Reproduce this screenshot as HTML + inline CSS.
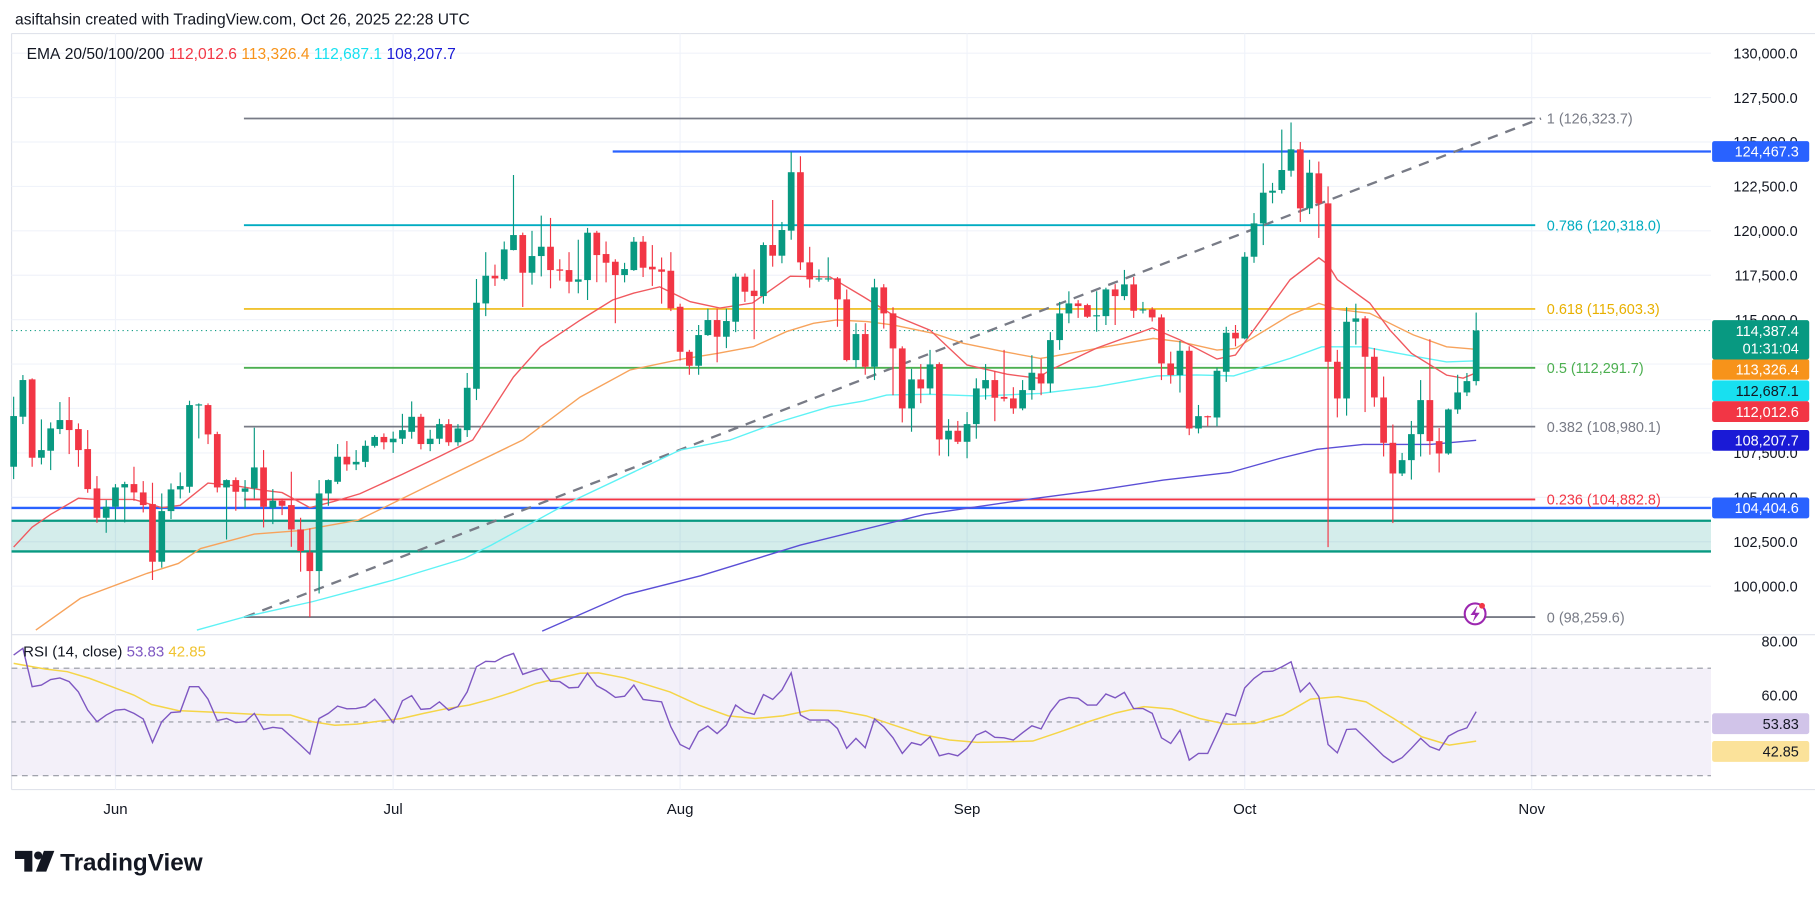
<!DOCTYPE html>
<html><head><meta charset="utf-8">
<style>
html,body{margin:0;padding:0;background:#fff;}
svg{display:block;font-family:"Liberation Sans",sans-serif;}
</style></head>
<body>
<svg id="chart" xmlns="http://www.w3.org/2000/svg" width="1815" height="900" viewBox="0 0 1570 778.5" preserveAspectRatio="none"></svg>
<script>
const opens=[106722,109537,111640,107229,107623,108843,109350,108843,107717,105502,103850,104470,105558,105746,105277,104620,101376,104226,105446,105596,110194,110194,108561,105558,105971,105314,105502,106684,104414,104808,104564,103193,101900,100850,105220,105877,107285,106853,106998,107900,108400,108100,108300,108689,109533,108000,108300,109120,108100,108783,111111,115915,117473,117285,118919,119763,117642,118581,119106,117830,117792,117135,117229,119895,118694,118261,117510,117792,119388,117980,117830,117754,115727,113193,112407,114134,114979,114040,114885,117419,116630,116330,119202,118601,120010,123300,118226,117288,117288,117325,116143,112726,114190,112350,116818,115354,113383,110005,111638,111131,112500,108259,108748,108127,109123,111131,111600,110650,110568,110005,111037,111974,111410,113851,115352,115915,115821,115200,115200,116703,116328,116985,115540,115577,115127,112537,111880,113250,108876,109570,109495,112068,114263,113945,118543,120420,122147,122298,123386,124587,121265,123235,121546,112631,110566,114883,115071,112913,110622,108070,106343,107094,108558,110473,108164,107469,109947,110904,111542];
const highs=[110664,111884,111696,109387,109218,110363,110645,109162,108787,106196,104845,105746,105877,106722,105915,105821,105220,105784,106403,110438,110288,110288,108693,106009,106121,105971,108918,107660,105464,104939,106440,103850,103250,105971,106009,107998,108167,107660,108200,108500,108600,108700,109700,110400,109700,108800,109420,109400,109120,112000,117290,118800,118100,119400,123143,119900,120000,120858,120727,118400,118800,119500,120164,120000,119400,118400,118200,119650,119707,119200,118500,118800,115900,113300,114700,115617,115617,115617,117600,117600,117829,119350,121736,120500,124450,124200,119100,117829,118508,117400,116700,114800,114800,117300,117000,115700,113500,112238,112500,113300,112600,109400,109300,109800,111700,112500,112100,113300,111200,111600,113000,112800,114300,116000,116596,116100,115900,116600,116800,117000,117800,117400,116000,115700,115300,113200,113800,113500,110200,109600,112300,114600,114700,118800,121000,123800,122700,125700,126100,125000,124000,123900,122500,113300,115700,115900,115200,113400,111800,109100,107500,109300,111600,113900,108900,110000,111900,112000,115400];
const lows=[106027,109125,106722,106853,106534,108561,107435,106722,105258,103568,103005,103719,103587,104808,104150,100347,101040,103775,104939,105258,108317,107998,105277,102630,104245,104376,104939,103305,103493,104000,102217,100816,98260,99589,104526,105746,106497,106534,106700,107800,107700,107500,108000,108300,107700,107600,108000,107900,107900,108400,110476,115200,116900,117200,118900,115714,116972,117435,116765,117200,116484,116484,116108,117110,117100,114800,117100,117750,117400,116900,115900,115483,112700,111900,111900,114087,112600,113400,114300,116000,113900,115900,117983,118176,119500,117800,116800,117138,117138,114600,112650,112300,111900,111600,114500,110750,109217,108692,110300,110800,107350,107310,108000,107200,108300,110500,109286,110400,109700,109900,110500,110750,110900,113300,114800,115100,115100,114320,114700,114700,116100,115100,115350,114900,111600,111400,110900,108500,108600,109000,109000,111500,113500,113900,118200,119200,121550,122100,123050,120500,120945,119600,102200,109500,109600,113600,109800,110100,107300,103550,106200,106000,107300,107400,106400,107400,109700,110700,111300];
const closes=[109575,111602,107229,107660,108880,109350,108787,107660,105464,103850,104470,105558,105746,105277,104564,101376,104226,105446,105634,110194,110232,108542,105558,105971,105314,105502,106684,104470,104808,104526,103193,101980,100850,105220,105971,107285,106853,106998,107900,108400,108100,108300,108783,109533,108000,108300,109120,108100,108876,111167,115953,117473,117322,118956,119763,117642,118581,119106,117792,117754,117135,117266,119895,118637,118205,117510,117849,119388,117924,117830,117698,115633,113193,112407,114134,114979,114040,114923,117419,116574,116330,119202,118601,120047,123300,118226,117269,117325,117325,116143,112726,114190,112350,116818,115354,113383,110005,111638,111131,112482,108259,108748,108127,109123,111131,111600,110606,110550,110005,111037,112013,111410,113851,115352,115915,115765,115164,115250,116703,116328,116985,115502,115580,115127,112537,111880,113250,108876,109570,109530,112124,114263,113945,118543,120420,122147,122260,123424,124587,121265,123273,121546,112630,110566,114883,115071,112913,110622,108070,106343,107094,108558,110473,108164,107469,109947,110904,111542,114387];
const ema20Day=[0,2,4,7,9,13,16,18,21,24,27,29,32,34.5,37.4,42,46,49.6,54,56.9,61.2,64.7,67,69.8,73.1,76.3,79.8,83.9,88.2,91.8,95,99,103,107.3,110.6,112,117,123,126,130,132,137.9,141,142,143,146.5,148.7,151,154.8,156.6,158];
const ema20Val=[102200,103320,104040,104950,104880,104880,104420,104550,105800,105650,105400,105270,104420,104750,105200,106300,107300,108230,111780,113470,114970,116110,116500,116850,116010,115650,115940,117450,117410,116290,115260,114410,112450,111930,111710,112170,113400,114530,113860,112780,113010,117250,118480,118090,117250,115940,114410,113110,111880,111710,112012];
const ema50Day=[2.4,7.2,14.4,17.8,20.2,26,31,33,37.2,45,55,61.2,66.6,72,76,79.9,83.5,86.4,88.9,92.2,95,99.4,102.6,107,110.9,112,117,123.1,126,130,132,137.9,141,143,146.5,151.2,154.8,158];
const ema50Val=[97530,99310,100720,101280,102120,102930,103130,103320,103710,105700,108230,110640,112170,112760,113100,113480,114330,114790,114980,114890,114700,114230,113670,113200,112820,112910,113380,113950,113760,113290,113380,115260,115920,115580,115360,114140,113470,113326];
const ema100Day=[19.8,25,32.3,41,48.7,51.6,60,72,77.4,82.8,88.2,91.8,94.3,99,104.4,110.9,117,123.5,127.8,131.8,137.9,141.3,145.8,151.2,154.8,158];
const ema100Val=[97530,98280,99130,100340,101560,102310,104700,107660,108230,109260,110100,110420,110760,110800,110700,110850,111230,111830,111890,111830,112820,113470,113470,112950,112620,112687];
const ema200Day=[57.1,66,74.2,85,98.4,109.8,117,124.2,131.4,136.8,140.8,145.8,153,158];
const ema200Val=[97470,99500,100580,102310,104040,104900,105400,105970,106400,107190,107700,107980,107980,108208];
const rsiDay=[0,1,2,3,4,5,6,7,8,9,10,11,12,13,14,15,16,17,18,19,20,21,22,23,24,25,26,27,28,29,30,31,32,33,34,35,36,37,38,39,40,41,42,43,44,45,46,47,48,49,50,51,52,53,54,55,56,57,58,59,60,61,62,63,64,65,66,67,68,69,70,71,72,73,74,75,76,77,78,79,80,81,82,83,84,85,86,88,89,90,91,92,93,94,95,96,97,98,99,100,101,102,103,104,105,106,107,108,109,110,111,112,113,114,115,116,117,118,119,120,121,122,123,124,125,126,127,128,129,130,131,132,133,134,135,136,137,138,139,140,141,142,143,144,145,146,147,148,149,150,151,152,153,154,155,156,157,158];
const rsiVal=[74.9,77.4,63.1,63.7,65.8,66.4,65.0,61.2,54.4,50.1,52.6,54.4,54.7,53.2,51.1,42.4,50.1,53.5,53.8,63.1,63.1,58.5,50.5,51.3,49.8,50.1,53.2,47.2,48.0,47.6,44.5,41.4,38.1,51.3,53.2,55.9,54.9,55.0,55.7,58.5,54.4,49.7,57.9,59.8,54.7,55.0,57.5,54.4,55.7,61.2,70.5,72.6,72.4,74.3,75.5,67.7,68.9,69.9,65.2,65.0,62.7,62.9,68.1,63.5,61.6,59.1,59.6,63.7,58.4,57.9,57.5,48.2,41.6,39.9,46.4,48.5,45.7,48.8,56.3,53.8,52.8,60.2,58.4,61.9,68.3,52.6,50.7,50.7,47.6,40.2,43.9,40.4,51.1,48.2,44.1,38.3,42.3,41.4,44.5,37.4,38.3,37.4,40.2,45.1,46.6,44.3,44.1,43.3,46.0,48.6,47.4,53.8,58.1,59.1,58.8,56.3,56.3,60.4,59.0,61.0,55.0,55.0,53.2,44.1,42.0,47.0,35.8,38.3,38.3,45.7,53.2,52.3,62.7,66.2,68.7,68.9,70.5,72.4,61.2,64.6,59.4,41.6,38.5,47.2,47.4,44.1,40.8,37.4,34.9,36.7,40.2,43.9,40.8,39.5,44.7,46.6,47.8,53.83];
const maDay=[0,3.4,5.8,8.2,10.6,13,14.9,17.8,22.6,27.5,29.9,32.3,34.7,37.1,39.5,41.9,44.3,46.8,49.2,51.6,54,56.4,58.8,61.2,63.2,66,68.5,70.9,74,77.2,80.1,83.1,86.1,89.1,92.1,95.1,98.1,101.1,104.1,107.1,110.1,113.1,116.1,119.1,122.1,125.1,128.1,131.1,134.1,137.1,140.1,143.1,146.1,149.1,152.1,155.1,158];
const maVal=[71.8,69.7,68.7,66.2,63.1,60,56.5,54.2,53.5,52.6,52.6,50.1,48.8,49.2,50.3,51.3,53.2,55,56.3,58.5,61.2,64.3,66.2,68.1,68.3,66.4,63.7,61.2,56.3,52.3,51.3,52.3,54.4,54.2,52.3,48.8,45.4,43.3,42.4,42.6,42.9,46.4,50.1,53.4,55.7,54.8,51.3,49.1,49.5,52.6,58.5,59.4,57.5,51.3,44.5,41.4,42.85];
const priceTicks=[130000,127500,125000,122500,120000,117500,115000,112500,110000,107500,105000,102500,100000];
const fibRatios=["1","0.786","0.618","0.5","0.382","0.236","0"];
const fibPrices=[126323.7,120318.0,115603.3,112291.7,108980.1,104882.8,98259.6];
const monthLabels=["Jun","Jul","Aug","Sep","Oct","Nov"];
const monthDays=[11,41,72,103,133,164];
const rsiTicks=[80,60,40];

const svg=document.getElementById('chart');
const NS='http://www.w3.org/2000/svg';
const X=i=>11.8+i*8.007;
const Y=p=>46+(130000-p)/2500*38.42;
const R=v=>578+(70-v)*2.325;
const fmt=(v,d)=>v.toLocaleString('en-US',{minimumFractionDigits:d,maximumFractionDigits:d});
function mk(tag,attrs,parent){const e=document.createElementNS(NS,tag);for(const k in attrs)e.setAttribute(k,attrs[k]);(parent||svg).appendChild(e);return e;}
function txt(s,attrs,parent){const e=mk('text',attrs,parent);e.textContent=s;return e;}

let t=txt('asiftahsin created with TradingView.com, Oct 26, 2025 22:28 UTC',{x:13,y:21,'font-size':13.5,fill:'#131722'});


let fr=mk('line',{x1:10,y1:29,x2:1570,y2:29,stroke:'#e0e3eb','stroke-width':1});


fr=mk('line',{x1:10,y1:29,x2:10,y2:683,stroke:'#e0e3eb','stroke-width':1});


fr=mk('line',{x1:10,y1:549,x2:1570,y2:549,stroke:'#e0e3eb','stroke-width':1});


fr=mk('line',{x1:10,y1:683,x2:1570,y2:683,stroke:'#e0e3eb','stroke-width':1});



priceTicks.forEach(p=>{const g=mk('line',{x1:10,y1:Y(p),x2:1480,y2:Y(p),stroke:'#f0f3fa','stroke-width':1});

});
monthDays.forEach(d=>{const g=mk('line',{x1:X(d),y1:29,x2:X(d),y2:683,stroke:'#f0f3fa','stroke-width':1});

});

let zone=mk('rect',{x:10,y:Y(103681),width:1470,height:Y(101955)-Y(103681),fill:'rgba(38,166,154,0.2)'});


[103681,101955].forEach(p=>{const l=mk('line',{x1:10,y1:Y(p),x2:1480,y2:Y(p),stroke:'#089981','stroke-width':2});

});
let bl=mk('line',{x1:10,y1:Y(104404.6),x2:1480,y2:Y(104404.6),stroke:'#2962ff','stroke-width':2});


bl=mk('line',{x1:530,y1:Y(124467.3),x2:1480,y2:Y(124467.3),stroke:'#2962ff','stroke-width':2});



const fibColors=['#787b86','#00acc1','#f0c330','#4caf50','#787b86','#f23645','#787b86'];
fibPrices.forEach((p,i)=>{const l=mk('line',{x1:211,y1:Y(p),x2:1328,y2:Y(p),stroke:fibColors[i],'stroke-width':1.6});


const tl=txt(fibRatios[i]+' ('+fmt(p,1)+')',{x:1338,y:Y(p)+4.5,'font-size':12.5,fill:fibColors[i]==='#f0c330'?'#e8b000':fibColors[i]});

});
let tr=mk('line',{x1:X(25),y1:Y(98259.6),x2:1333,y2:Y(126323.7),stroke:'#787b86','stroke-width':2,'stroke-dasharray':'9,7'});


let cp=mk('line',{x1:10,y1:Y(closes[closes.length-1]),x2:1480,y2:Y(closes[closes.length-1]),stroke:'#089981','stroke-width':1,'stroke-dasharray':'1,3'});



function poly(days,vals,col,name){const pts=days.map((d,i)=>X(d).toFixed(1)+','+Y(vals[i]).toFixed(1)).join(' ');
const pl=mk('polyline',{points:pts,fill:'none',stroke:col,'stroke-width':1.2});

}
poly(ema200Day,ema200Val,'#5b4fd6','ema200-line');
poly(ema100Day,ema100Val,'#5ef2f5','ema100-line');
poly(ema50Day,ema50Val,'#f7a35c','ema50-line');
poly(ema20Day,ema20Val,'#f0595f','ema20-line');

closes.forEach((c,i)=>{const o=opens[i],up=c>=o,col=up?'#089981':'#f23645',x=X(i);
const g=mk('g',{});


mk('line',{x1:x,y1:Y(highs[i]),x2:x,y2:Y(lows[i]),stroke:col,'stroke-width':1},g);
const top=Y(Math.max(o,c)),bot=Y(Math.min(o,c));
mk('rect',{x:x-2.9,y:top,width:5.8,height:Math.max(1,bot-top),fill:col},g);});

let lg=mk('g',{});


const lt=mk('text',{x:23,y:51,'font-size':13.5,fill:'#131722'},lg);
[['EMA 20/50/100/200 ','#131722'],['112,012.6 ','#f23645'],['113,326.4 ','#f7931a'],['112,687.1 ','#18e0f0'],['108,207.7','#1a1ad6']].forEach(a=>{const s=document.createElementNS(NS,'tspan');s.setAttribute('fill',a[1]);s.textContent=a[0].replace(/ /g,'\u00a0');lt.appendChild(s);});

priceTicks.forEach(p=>{const l=txt(fmt(p,1),{x:1555,y:Y(p)+4.5,'font-size':12.5,fill:'#131722','text-anchor':'end'});

});
function tag(y,bg,fg,label,name,h){const r=mk('rect',{x:1481,y:y-9,width:84,height:h||18,rx:2,fill:bg});


const tt=txt(label,{x:1556,y:y+4.5,'font-size':12.5,fill:fg,'text-anchor':'end'});

return y;}
tag(Y(124467.3),'#2962ff','#fff','124,467.3','tag-124467');
tag(Y(104404.6),'#2962ff','#fff','104,404.6','tag-104404');
tag(Y(108207.7),'#1a1ad6','#fff','108,207.7','tag-ema200');
tag(356,'#f23645','#fff','112,012.6','tag-ema20');
tag(338,'#18e0f0','#131722','112,687.1','tag-ema100');
tag(319.5,'#f7931a','#fff','113,326.4','tag-ema50');
const cy=tag(Y(closes[closes.length-1]),'#089981','#fff','114,387.4','tag-last-price',34);
let cd=txt('01:31:04',{x:1556,y:cy+20,'font-size':12.5,fill:'#fff','text-anchor':'end'});



let li=mk('g',{});


mk('circle',{cx:1276,cy:531,r:9,fill:'#fff',stroke:'#9c27b0','stroke-width':1.8},li);
mk('path',{d:'M1278 524 L1272 532 L1276 532 L1274 538 L1280 530 L1276 530 Z',fill:'#9c27b0'},li);
mk('circle',{cx:1282,cy:524,r:2.5,fill:'#f23645'},li);

let band=mk('rect',{x:10,y:R(70),width:1470,height:R(30)-R(70),fill:'rgba(126,87,194,0.09)'});


[70,50,30].forEach(v=>{const l=mk('line',{x1:10,y1:R(v),x2:1480,y2:R(v),stroke:'#9598a1','stroke-width':1,'stroke-dasharray':v===50?'4,4':'5,4'});

});
let rl=mk('polyline',{points:maDay.map((d,i)=>X(d).toFixed(1)+','+R(maVal[i]).toFixed(1)).join(' '),fill:'none',stroke:'#f5d547','stroke-width':1.3});


rl=mk('polyline',{points:rsiDay.map((d,i)=>X(d).toFixed(1)+','+R(rsiVal[i]).toFixed(1)).join(' '),fill:'none',stroke:'#7e57c2','stroke-width':1.2});


let rleg=mk('text',{x:20,y:568,'font-size':13,fill:'#131722'});


[['RSI (14, close) ','#131722'],['53.83 ','#7e57c2'],['42.85','#f0c330']].forEach(a=>{const s=document.createElementNS(NS,'tspan');s.setAttribute('fill',a[1]);s.textContent=a[0].replace(/ /g,'\u00a0');rleg.appendChild(s);});
rsiTicks.forEach(v=>{const l=txt(v.toFixed(2),{x:1555,y:R(v)+4.5,'font-size':12.5,fill:'#131722','text-anchor':'end'});

});
tag(626,'#d1c4e9','#131722','53.83','tag-rsi');
tag(650,'#fbe29a','#131722','42.85','tag-rsi-ma');

monthLabels.forEach((m,i)=>{const l=txt(m,{x:X(monthDays[i]),y:704,'font-size':13,fill:'#131722','text-anchor':'middle'});

});

let logo=mk('g',{});


mk('path',{d:'M13 736 H28 V754 H21 V743 H13 Z',fill:'#131722'},logo);
mk('circle',{cx:33,cy:740,r:3.5,fill:'#131722'},logo);
mk('path',{d:'M38 736 H47 L40 754 H31 Z',fill:'#131722'},logo);
txt('TradingView',{x:52,y:753,'font-size':21,'font-weight':'bold',fill:'#131722'},logo);
</script>
</body></html>
